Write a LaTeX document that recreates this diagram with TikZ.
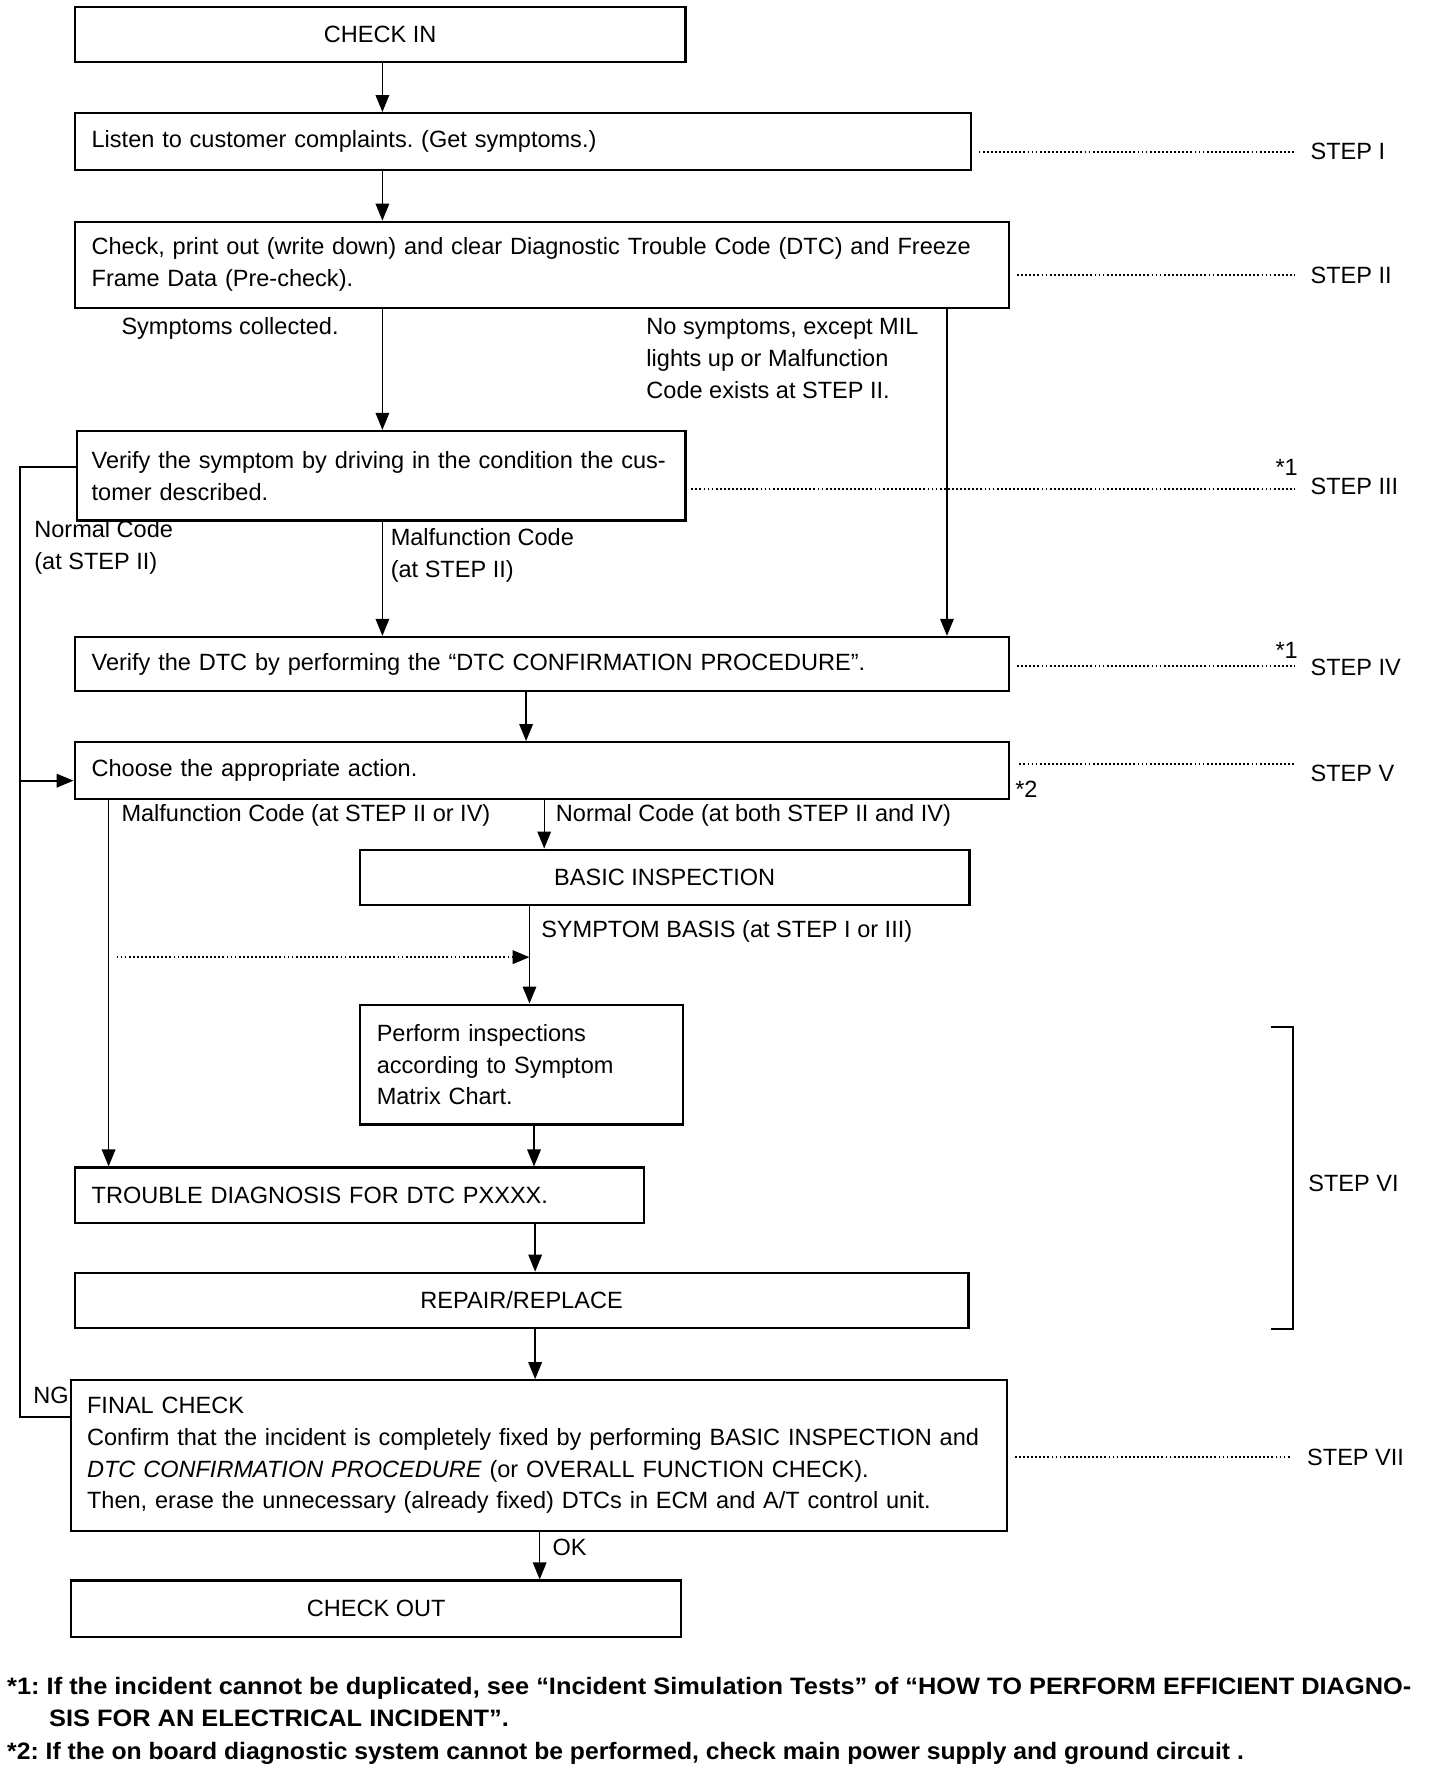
\documentclass[tikz,border=0pt]{standalone}
\usepackage{fontspec}
\usepackage{graphicx}
\setmainfont{Liberation Sans}
\usetikzlibrary{arrows.meta,calc}
\newcommand\myfnfont{\fontsize{10.5}{13}\selectfont\bfseries}
\newlength\myfnw
\AtBeginDocument{%
  \frenchspacing
  \settowidth{\myfnw}{\myfnfont *1: If the incident cannot be duplicated, see “Incident Simulation Tests” of “HOW TO PERFORM EFFICIENT DIAGNO-}%
  \pgfmathsetmacro\myfnscale{620.5/\myfnw}%
}
\begin{document}
\begin{tikzpicture}[x=0.5pt,y=-0.5pt,
  font=\fontsize{10.4}{14}\selectfont,
  box/.style={draw, line width=1pt, inner xsep=7.5pt, inner ysep=0pt, align=left, rectangle},
  cbox/.style={draw, line width=1pt, inner sep=0pt, align=center, rectangle},
  arr/.style={line width=0.6pt, -{Triangle[length=7.5pt,width=6pt]}},
  ln/.style={line width=0.8pt},
  dots/.style={line width=0.9pt, dash pattern=on 0.8pt off 1.0pt},
  lbl/.style={inner sep=0pt, anchor=west, align=left},
]
\useasboundingbox (0,0) rectangle (1273,1568);

% boxes
\node[cbox, minimum width=270pt, minimum height=24.5pt] (checkin) at (336,30.5) {CHECK IN};
\node[box, minimum height=25pt, text width=381pt] (listen) at (462,125) {Listen to customer complaints. (Get symptoms.)};
\node[box, minimum height=38pt, text width=398pt] (check) at (479,234) {\mbox{Check, print out (write down) and clear Diagnostic Trouble Code (DTC) and Freeze}\\Frame Data (Pre-check).};
\node[box, minimum height=39.5pt, text width=256pt, inner xsep=6.5pt] (verify) at (337,420.5) {\mbox{Verify the symptom by driving in the condition the cus-}\\tomer described.};
\node[box, minimum height=24pt, text width=398pt] (dtc) at (479,587) {Verify the DTC by performing the “DTC CONFIRMATION PROCEDURE”.};
\node[box, minimum height=25pt, text width=398pt] (choose) at (479,681) {Choose the appropriate action.};
\node[cbox, minimum width=269.5pt, minimum height=24.5pt] (basic) at (587.5,775.5) {BASIC INSPECTION};
\node[box, minimum height=53pt, text width=128pt] (perform) at (461,941) {Perform inspections\\according to Symptom\\Matrix Chart.};
\node[box, minimum height=24.5pt, text width=236.5pt] (trouble) at (317.5,1056.5) {TROUBLE DIAGNOSIS FOR DTC PXXXX.};
\node[cbox, minimum width=395pt, minimum height=24.5pt] (repair) at (461,1149.5) {REPAIR/REPLACE};
\node[box, minimum height=66.5pt, text width=399.5pt, inner xsep=7pt] (final) at (476.5,1286.5) {FINAL CHECK\\\mbox{Confirm that the incident is completely fixed by performing BASIC INSPECTION and}\\\textit{DTC CONFIRMATION PROCEDURE} (or OVERALL FUNCTION CHECK).\\\mbox{Then, erase the unnecessary (already fixed) DTCs in ECM and A/T control unit.}};
\node[cbox, minimum width=269.5pt, minimum height=25pt] (checkout) at (332.5,1422) {CHECK OUT};

% columns
\coordinate (cA) at (338,0);
\coordinate (cB) at (837,0);
\coordinate (cC) at (465,0);
\coordinate (cD) at (481,0);
\coordinate (cE) at (96,0);
\coordinate (cF) at (468,0);
\coordinate (cG) at (472,0);
\coordinate (cH) at (473,0);
\coordinate (cI) at (477,0);

% connectors
\draw[arr] (checkin.south -| cA) -- (listen.north -| cA);
\draw[arr] (listen.south -| cA) -- (check.north -| cA);
\draw[arr] (check.south -| cA) -- (verify.north -| cA);
\draw[arr] (check.south -| cB) -- (dtc.north -| cB);
\draw[arr] (verify.south -| cA) -- (dtc.north -| cA);
\draw[arr] (dtc.south -| cC) -- (choose.north -| cC);
\draw[arr] (choose.south -| cD) -- (basic.north -| cD);
\draw[arr] (choose.south -| cE) -- (trouble.north -| cE);
\draw[arr] (basic.south -| cF) -- (perform.north -| cF);
\draw[arr] (perform.south -| cG) -- (trouble.north -| cG);
\draw[arr] (trouble.south -| cH) -- (repair.north -| cH);
\draw[arr] (repair.south -| cH) -- (final.north -| cH);
\draw[arr] (final.south -| cI) -- (checkout.north -| cI);

% NG loop
\coordinate (ngB) at (18,1252.5);
\coordinate (ngT) at (18,413);
\coordinate (ngM) at (18,690);
\draw[ln] (final.west |- ngB) -- (ngB) -- (ngT) -- (verify.west |- ngT);
\draw[arr, line width=0.8pt] (ngM) -- (choose.west |- ngM);

% dotted arrow
\coordinate (dS) at (103,846);
\draw[dots, -{Triangle[length=7.5pt,width=6pt]}] (dS) -- (dS -| cF);

% step lines
\coordinate (s1) at (1145,134);
\coordinate (s2) at (1145,243);
\coordinate (s3) at (1145,432);
\coordinate (s4) at (1145,589);
\coordinate (s5) at (1145,675);
\coordinate (s7) at (1141,1288);
\draw[dots, shorten <=3pt] (listen.east |- s1) -- (s1);
\draw[dots, shorten <=3pt] (check.east |- s2) -- (s2);
\draw[dots, shorten <=2pt] (verify.east |- s3) -- (s3);
\draw[dots, shorten <=3pt] (dtc.east |- s4) -- (s4);
\draw[dots, shorten <=4pt] (choose.east |- s5) -- (s5);
\draw[dots, shorten <=3pt] (final.east |- s7) -- (s7);
\node[lbl] (st1) at (1158,134) {STEP I};
\node[lbl] (st2) at (1158,243) {STEP II};
\node[lbl] (st3) at (1158,430) {STEP III};
\node[lbl] (st4) at (1158,590) {STEP IV};
\node[lbl] (st5) at (1158,684) {STEP V};
\node[lbl] (st6) at (1156,1046) {STEP VI};
\node[lbl] (st7) at (1155,1288) {STEP VII};
\node[lbl] (n1a) at (1127,413) {*1};
\node[lbl] (n1b) at (1127,575) {*1};
\node[lbl] (n2) at (897,698) {*2};
\coordinate (brT) at (1123,908);
\coordinate (brB) at (1123,1175);
\draw[ln] (brT) -- (1143,908) -- (1143,1175) -- (brB);

% labels
\node[lbl] (lsym) at (107,290) {Symptoms collected.};
\node[lbl] (lnosym) at (571,317) {No symptoms, except MIL\\lights up or Malfunction\\Code exists at STEP II.};
\node[lbl] (lnorm) at (30,484) {Normal Code\\(at STEP II)};
\node[lbl] (lmal) at (345,491) {Malfunction Code\\(at STEP II)};
\node[lbl] (lmal2) at (107,721) {Malfunction Code (at STEP II or IV)};
\node[lbl] (lnorm2) at (491,721) {Normal Code (at both STEP II and IV)};
\node[lbl] (lsb) at (478,823) {SYMPTOM BASIS (at STEP I or III)};
\node[lbl] (lng) at (29,1233) {NG};
\node[lbl] (lok) at (488,1368) {OK};

% footnotes
\node[lbl, font=\myfnfont] (fn1a) at (6,1492) {\scalebox{\myfnscale}[1]{*1: If the incident cannot be duplicated, see “Incident Simulation Tests” of “HOW TO PERFORM EFFICIENT DIAGNO-}};
\node[lbl, font=\myfnfont] (fn1b) at (43,1519) {\scalebox{\myfnscale}[1]{SIS FOR AN ELECTRICAL INCIDENT”.}};
\node[lbl, font=\myfnfont] (fn2) at (6,1550) {\resizebox{546.5pt}{\height}{*2: If the on board diagnostic system cannot be performed, check main power supply and ground circuit .}};
\end{tikzpicture}
\end{document}
